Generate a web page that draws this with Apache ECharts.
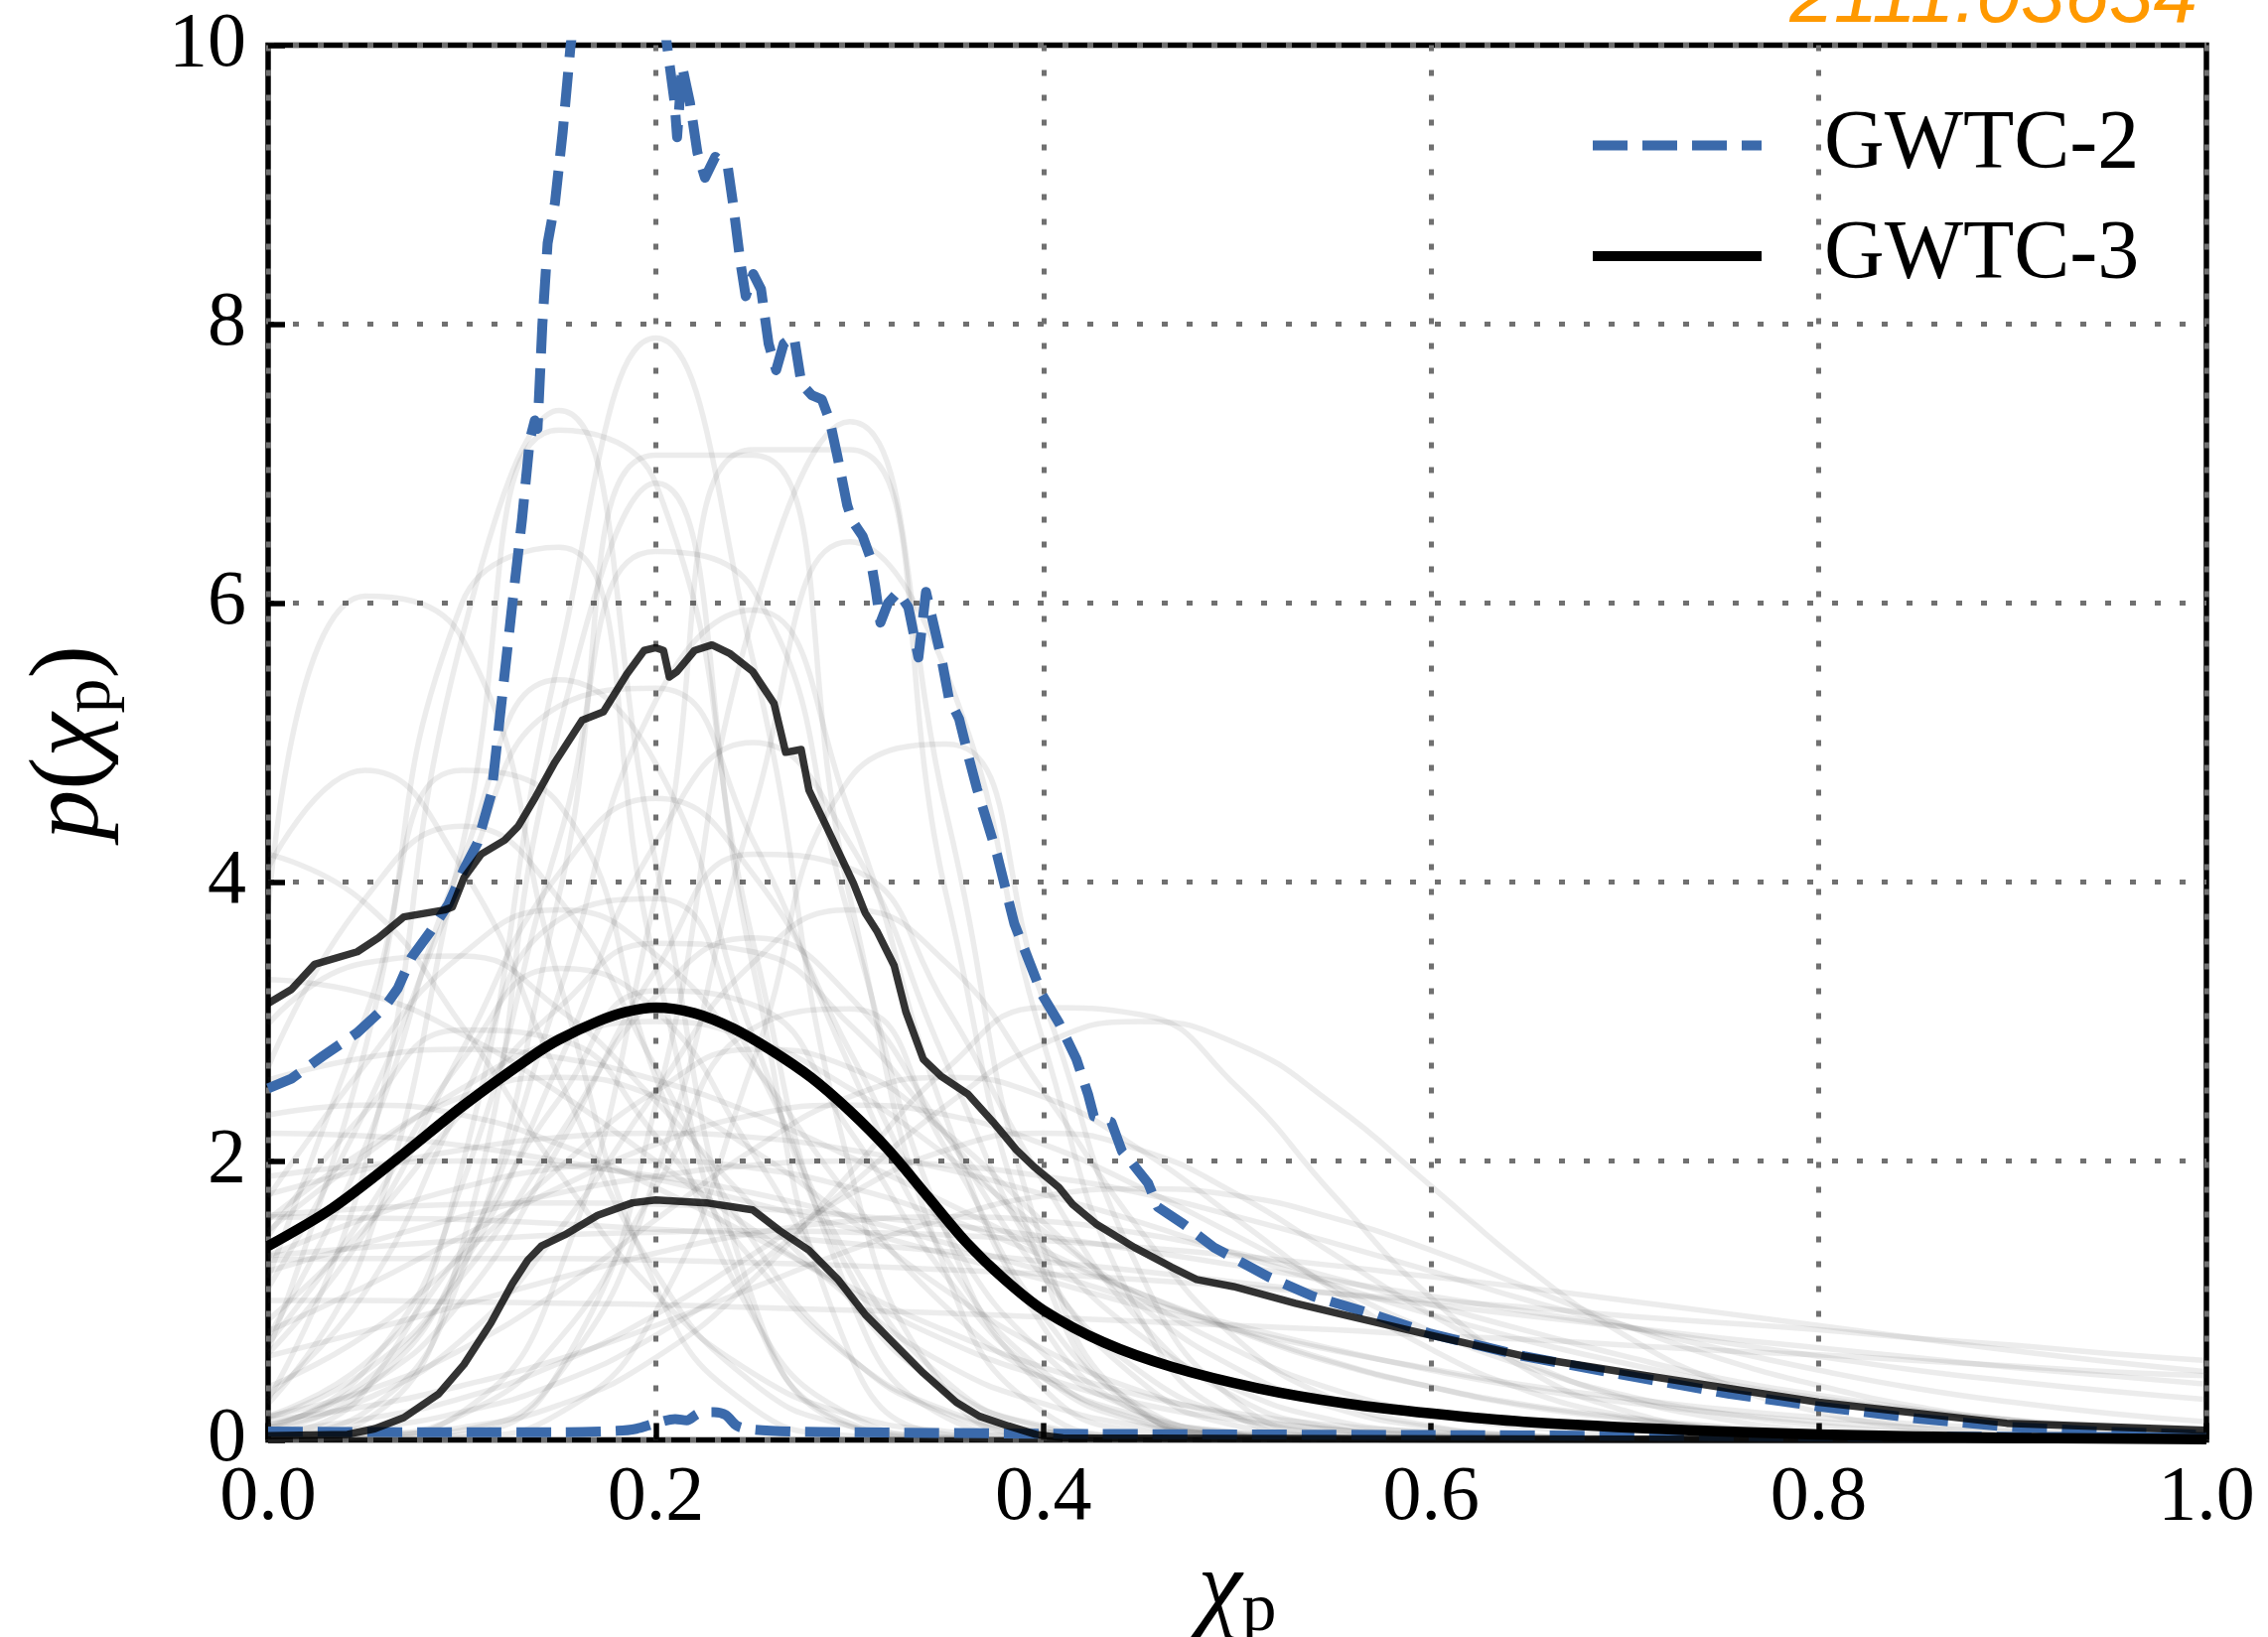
<!DOCTYPE html>
<html>
<head>
<meta charset="utf-8">
<script src="https://cdn.jsdelivr.net/npm/echarts@6/dist/echarts.min.js"></script>
<style>
html,body{margin:0;padding:0;background:#ffffff;}
#chart{width:2284px;height:1649px;}
</style>
</head>
<body>
<div id="chart"></div>
<script>
// ---------------- data ----------------
const xTickLabels = ['0.0', '0.2', '0.4', '0.6', '0.8', '1.0'];
const yTickLabels = ['0', '2', '4', '6', '8', '10'];
const legendNames = ['GWTC-2', 'GWTC-3'];

// faint population draws, sampled on a common chi_p grid
const drawX = [0,0.05,0.1,0.15,0.2,0.25,0.3,0.35,0.4,0.45,0.5,0.55,0.6,0.65,0.7,0.75,0.8,0.85,0.9,0.95,1.0];
const draws = [
  [0.26,1.37,4.25,7.24,6.86,3.58,1.03,0.16,0.02,0,0,0,0,0,0,0,0,0,0,0,0],
  [0.03,0.35,1.96,5.6,7.9,5.6,1.96,0.35,0.03,0,0,0,0,0,0,0,0,0,0,0,0],
  [0.02,0.2,1.2,3.9,7.06,7.06,3.9,1.2,0.2,0.02,0,0,0,0,0,0,0,0,0,0,0],
  [0,0.02,0.2,1.2,3.9,7.1,7.1,3.9,1.2,0.2,0.02,0,0,0,0,0,0,0,0,0,0],
  [3.8,6.05,5.75,3.3,1.1,0.23,0.03,0,0,0,0,0,0,0,0,0,0,0,0,0,0],
  [0.64,2.8,6.0,6.4,3.4,0.92,0.12,0.01,0,0,0,0,0,0,0,0,0,0,0,0,0],
  [0,0.01,0.07,0.47,1.9,4.5,6.44,5.5,2.85,0.88,0.16,0.02,0,0,0,0,0,0,0,0,0],
  [0.07,0.36,1.3,3.2,5.3,5.95,4.5,2.3,0.81,0.19,0.03,0,0,0,0,0,0,0,0,0,0],
  [0.74,2.1,4.15,5.45,4.85,2.9,1.2,0.33,0.06,0.01,0,0,0,0,0,0,0,0,0,0,0],
  [0,0.14,1.39,5.1,6.86,3.4,0.62,0.04,0,0,0,0,0,0,0,0,0,0,0,0,0],
  [0.62,1.49,2.79,4.06,4.6,4.06,2.79,1.49,0.62,0.2,0.05,0.01,0,0,0,0,0,0,0,0,0],
  [2.67,3.88,4.4,3.88,2.67,1.43,0.6,0.19,0.05,0.01,0,0,0,0,0,0,0,0,0,0,0],
  [0.11,0.38,1.0,2.1,3.37,4.2,4.1,3.1,1.85,0.85,0.3,0.085,0.02,0,0,0,0,0,0,0,0],
  [4.2,3.85,2.97,1.92,1.05,0.48,0.18,0.06,0.02,0,0,0,0,0,0,0,0,0,0,0,0],
  [1.74,2.69,3.48,3.8,3.48,2.69,1.74,0.95,0.44,0.17,0.053,0.014,0,0,0,0,0,0,0,0,0],
  [0.86,1.52,2.35,3.1,3.56,3.5,2.98,2.18,1.39,0.75,0.36,0.14,0.05,0.015,0,0,0,0,0,0,0],
  [0.01,0.03,0.09,0.25,0.59,1.15,1.91,2.66,3.1,3.05,2.53,1.75,1.02,0.5,0.21,0.07,0.02,0,0,0,0],
  [2.58,2.74,2.8,2.74,2.58,2.34,2.03,1.7,1.36,1.05,0.78,0.55,0.38,0.25,0.16,0.095,0.055,0.03,0.016,0.008,0.004],
  [2.2,2.18,2.11,2.0,1.87,1.7,1.52,1.33,1.15,0.96,0.79,0.64,0.51,0.39,0.3,0.22,0.16,0.115,0.08,0.056,0.037],
  [1.61,1.66,1.69,1.7,1.69,1.66,1.61,1.54,1.46,1.36,1.25,1.14,1.03,0.92,0.81,0.7,0.6,0.5,0.42,0.35,0.29],
  [1.32,1.38,1.43,1.47,1.49,1.5,1.49,1.47,1.43,1.38,1.32,1.25,1.17,1.09,1.0,0.91,0.82,0.73,0.64,0.56,0.49],
  [1.21,1.41,1.6,1.77,1.89,1.97,2.0,1.97,1.89,1.77,1.6,1.41,1.21,1.0,0.82,0.65,0.5,0.37,0.27,0.19,0.13],
  [3.3,3.2,2.91,2.49,2.0,1.51,1.07,0.71,0.45,0.26,0.145,0.075,0.037,0.017,0.007,0,0,0,0,0,0],
  [1.5,2.04,2.52,2.87,3.0,2.87,2.52,2.04,1.5,1.02,0.64,0.36,0.19,0.09,0.04,0.015,0.006,0,0,0,0],
  [0.17,0.35,0.65,1.07,1.58,2.08,2.46,2.6,2.46,2.08,1.58,1.07,0.65,0.35,0.17,0.073,0.029,0.01,0,0,0],
  [1.16,3.03,4.8,4.56,2.6,0.89,0.18,0.02,0,0,0,0,0,0,0,0,0,0,0,0,0],
  [0.1,0.42,1.24,2.7,4.28,5.0,4.28,2.7,1.24,0.42,0.1,0.02,0,0,0,0,0,0,0,0,0],
  [4.1,4.8,4.1,2.6,1.2,0.41,0.1,0.02,0,0,0,0,0,0,0,0,0,0,0,0,0],
  [1.09,2.36,4.0,5.26,5.39,4.3,2.68,1.3,0.49,0.14,0.03,0,0,0,0,0,0,0,0,0,0],
  [0.09,0.29,0.72,1.5,2.5,3.42,3.8,3.42,2.5,1.5,0.72,0.29,0.1,0.03,0,0,0,0,0,0,0],
  [0,0,0.02,0.19,0.92,2.7,4.74,4.99,3.15,1.2,0.27,0.04,0,0,0,0,0,0,0,0,0],
  [0.29,1.96,5.75,7.38,4.14,1.01,0.1,0,0,0,0,0,0,0,0,0,0,0,0,0,0],
  [0,0,0.04,0.49,2.4,5.9,7.3,4.49,1.38,0.21,0.02,0,0,0,0,0,0,0,0,0,0],
  [0.09,0.5,1.83,4.3,6.37,6.1,3.74,1.48,0.37,0.06,0.01,0,0,0,0,0,0,0,0,0,0],
  [2.98,3.42,3.47,3.09,2.43,1.68,1.02,0.54,0.26,0.1,0.04,0.01,0,0,0,0,0,0,0,0,0],
  [0.14,0.24,0.39,0.58,0.82,1.09,1.36,1.59,1.75,1.8,1.75,1.59,1.36,1.09,0.82,0.58,0.39,0.24,0.14,0.08,0.04],
  [1.76,1.94,2.08,2.17,2.2,2.17,2.08,1.94,1.76,1.56,1.33,1.11,0.9,0.71,0.55,0.41,0.3,0.21,0.145,0.097,0.062],
  [1.6,1.59,1.58,1.55,1.51,1.47,1.41,1.35,1.28,1.21,1.13,1.05,0.97,0.89,0.81,0.73,0.66,0.59,0.52,0.46,0.4],
  [1.29,1.3,1.3,1.3,1.29,1.27,1.25,1.22,1.19,1.15,1.1,1.05,1.0,0.95,0.89,0.84,0.79,0.73,0.68,0.62,0.57],
  [0.033,0.085,0.2,0.41,0.75,1.23,1.82,2.4,2.84,3.0,2.84,2.4,1.82,1.23,0.75,0.41,0.2,0.085,0.033,0.012,0],
  [0.17,0.55,1.36,2.44,3.22,3.12,2.22,1.17,0.45,0.125,0.03,0,0,0,0,0,0,0,0,0,0],
  [0.38,0.75,1.32,1.95,2.5,2.8,2.67,2.2,1.56,0.96,0.51,0.23,0.09,0.03,0.01,0,0,0,0,0,0],
  [1.58,2.08,2.46,2.6,2.46,2.08,1.58,1.07,0.65,0.35,0.17,0.073,0.029,0.01,0,0,0,0,0,0,0],
  [0.78,1.1,1.46,1.81,2.12,2.33,2.4,2.33,2.12,1.81,1.46,1.1,0.78,0.52,0.32,0.19,0.105,0.055,0.027,0.012,0.005],
  [2.33,2.4,2.33,2.12,1.81,1.46,1.1,0.78,0.52,0.32,0.19,0.105,0.055,0.027,0.012,0.005,0,0,0,0,0],
  [1.32,1.59,1.81,1.95,2.0,1.95,1.81,1.59,1.32,1.05,0.79,0.56,0.38,0.24,0.15,0.088,0.049,0.026,0.013,0.006,0.003],
  [0.32,1.06,2.43,3.73,3.88,2.73,1.3,0.42,0.09,0.01,0,0,0,0,0,0,0,0,0,0,0],
  [0.16,0.49,1.17,2.18,3.18,3.6,3.18,2.18,1.17,0.49,0.16,0.04,0.01,0,0,0,0,0,0,0,0],
  [1.46,2.35,2.94,2.87,2.18,1.29,0.59,0.21,0.06,0.013,0,0,0,0,0,0,0,0,0,0,0],
  [0.6,0.78,0.97,1.16,1.34,1.48,1.57,1.6,1.57,1.48,1.34,1.16,0.97,0.78,0.6,0.44,0.32,0.22,0.14,0.09,0.055],
  [1.0,1.0,0.99,0.98,0.97,0.95,0.93,0.91,0.88,0.85,0.82,0.79,0.75,0.72,0.68,0.64,0.61,0.57,0.53,0.49,0.46],
  [0.06,0.15,0.3,0.55,0.9,1.33,1.76,2.08,2.2,2.08,1.76,1.33,0.9,0.55,0.3,0.15,0.06,0.02,0.01,0,0],
  [1.89,1.97,2.0,1.97,1.89,1.77,1.6,1.41,1.21,1.0,0.82,0.65,0.5,0.37,0.27,0.19,0.13,0.088,0.057,0.036,0.022],
  [0,0.03,0.18,0.72,1.81,2.95,3.09,2.08,0.89,0.24,0.04,0,0,0,0,0,0,0,0,0,0],
  [0.69,1.62,2.72,3.38,3.08,2.06,1.01,0.37,0.1,0.02,0,0,0,0,0,0,0,0,0,0,0]
];

// GWTC-3 median
const g3MedX = [0,0.033,0.067,0.101,0.136,0.15,0.17,0.185,0.2,0.22,0.24,0.26,0.28,0.3,0.32,0.34,0.36,0.38,0.4,0.431,0.466,0.511,0.557,0.6,0.648,0.733,0.8,0.9,1.0];
const g3MedY = [1.39,1.66,2.02,2.40,2.75,2.87,3.0,3.07,3.10,3.06,2.95,2.79,2.6,2.36,2.08,1.75,1.42,1.15,0.93,0.70,0.525,0.37,0.26,0.19,0.13,0.07,0.04,0.015,0.006];

// GWTC-3 upper 90% bound
const g3UpX = [0,0.012,0.024,0.046,0.057,0.07,0.091,0.095,0.101,0.11,0.122,0.129,0.138,0.148,0.162,0.173,0.185,0.194,0.2,0.204,0.207,0.211,0.22,0.229,0.238,0.25,0.261,0.267,0.275,0.279,0.288,0.302,0.308,0.314,0.323,0.329,0.338,0.347,0.361,0.374,0.386,0.395,0.408,0.415,0.427,0.447,0.466,0.479,0.498,0.53,0.557,0.6,0.648,0.707,0.73,0.8,0.897,1.0];
const g3UpY = [3.13,3.23,3.41,3.50,3.60,3.75,3.80,3.82,4.03,4.20,4.30,4.40,4.61,4.86,5.16,5.22,5.49,5.66,5.68,5.66,5.47,5.51,5.66,5.70,5.64,5.51,5.28,4.93,4.95,4.66,4.40,3.99,3.78,3.65,3.40,3.07,2.73,2.61,2.48,2.28,2.08,1.96,1.81,1.69,1.55,1.38,1.24,1.15,1.10,0.98,0.89,0.75,0.60,0.47,0.42,0.27,0.12,0.07];

// GWTC-3 lower 90% bound
const g3LoX = [0,0.041,0.055,0.07,0.088,0.101,0.115,0.126,0.134,0.141,0.153,0.17,0.188,0.2,0.226,0.25,0.264,0.279,0.294,0.308,0.323,0.338,0.355,0.367,0.382,0.396,0.41,0.5,0.7,1.0];
const g3LoY = [0.03,0.04,0.08,0.16,0.33,0.54,0.84,1.12,1.29,1.39,1.47,1.61,1.70,1.72,1.70,1.65,1.50,1.36,1.15,0.90,0.69,0.48,0.27,0.17,0.10,0.04,0.015,0.01,0.005,0.002];

// GWTC-2 upper 90% bound
const g2UpX = [0,0.012,0.028,0.046,0.06,0.067,0.074,0.084,0.093,0.101,0.108,0.1153,0.1258,0.131,0.135,0.1376,0.139,0.1415,0.1442,0.148,0.152,0.156,0.165,0.18,0.195,0.2058,0.2097,0.211,0.2136,0.2176,0.2215,0.2254,0.2307,0.2372,0.2398,0.2438,0.2464,0.2503,0.2543,0.2582,0.2621,0.266,0.2713,0.2752,0.2805,0.2857,0.2897,0.2936,0.2962,0.2988,0.3014,0.3067,0.3106,0.3132,0.3159,0.3198,0.325,0.3303,0.3355,0.3394,0.3473,0.3512,0.3565,0.3617,0.3657,0.376,0.385,0.3935,0.3994,0.408,0.417,0.423,0.426,0.435,0.4405,0.446,0.454,0.459,0.472,0.488,0.516,0.539,0.568,0.6,0.648,0.694,0.754,0.8,0.85,0.897,0.945,1.0];
const g2UpY = [2.52,2.59,2.75,2.92,3.10,3.24,3.46,3.65,3.84,4.09,4.28,4.64,5.97,6.6,7.17,7.31,7.25,8.0,8.58,8.87,9.38,9.99,11.0,11.8,11.2,10.0,9.59,9.34,9.85,9.59,9.23,9.05,9.2,9.12,8.87,8.43,8.2,8.36,8.25,7.86,7.67,7.86,7.91,7.57,7.49,7.46,7.31,7.06,6.88,6.70,6.59,6.48,6.33,6.12,5.86,6.0,6.08,5.97,5.61,6.08,5.61,5.32,5.17,4.88,4.67,4.2,3.7,3.4,3.19,2.99,2.73,2.48,2.32,2.28,2.07,1.98,1.84,1.67,1.55,1.38,1.17,1.03,0.91,0.76,0.60,0.48,0.33,0.24,0.155,0.095,0.06,0.035];

// GWTC-2 lower 90% bound
const g2LoX = [0,0.1,0.15,0.18,0.19,0.2,0.21,0.216,0.222,0.23,0.236,0.242,0.25,0.27,0.3,0.4,0.6,0.8,1.0];
const g2LoY = [0.06,0.055,0.055,0.065,0.08,0.12,0.15,0.14,0.19,0.2,0.18,0.1,0.075,0.06,0.055,0.045,0.035,0.025,0.02];

// ---------------- chart ----------------
const zip = (xs, ys) => xs.map((x, i) => [x, ys[i]]);
const SERIF = '"Liberation Serif", "DejaVu Serif", serif';
const BLUE = '#3b6aab';

const series = [];
draws.forEach((d, k) => {
  series.push({
    name: 'draw ' + (k + 1),
    type: 'line',
    data: zip(drawX, d),
    smooth: 0.5,
    symbol: 'none',
    silent: true,
    z: 1,
    lineStyle: { color: '#444444', width: 5.5, opacity: 0.1 }
  });
});
series.push({
  name: legendNames[0], type: 'line', data: zip(g2UpX, g2UpY), symbol: 'none', z: 3,
  lineStyle: { color: BLUE, width: 10, type: [35, 15], join: 'round' }
});
series.push({
  name: 'GWTC-2 lower', type: 'line', data: zip(g2LoX, g2LoY), symbol: 'none', z: 3, smooth: 0.3,
  lineStyle: { color: BLUE, width: 10, type: [35, 15], join: 'round' }
});
series.push({
  name: 'GWTC-3 upper', type: 'line', data: zip(g3UpX, g3UpY), symbol: 'none', z: 4,
  lineStyle: { color: '#000', opacity: 0.8, width: 7.5, join: 'round' }
});
series.push({
  name: 'GWTC-3 lower', type: 'line', data: zip(g3LoX, g3LoY), symbol: 'none', z: 4,
  lineStyle: { color: '#000', opacity: 0.8, width: 7.5, join: 'round' }
});
series.push({
  name: legendNames[1], type: 'line', data: zip(g3MedX, g3MedY), symbol: 'none', z: 5, smooth: 0.3,
  lineStyle: { color: '#000', width: 10.5, join: 'round' }
});

const gridLine = { show: true, lineStyle: { color: '#707070', width: 5, type: [6, 19], cap: 'butt' } };
const tick = { show: true, inside: true, length: 17, lineStyle: { color: '#000', width: 5.5 } };
const nameRich = {
  i: { fontFamily: SERIF, fontStyle: 'italic', fontSize: 100, lineHeight: 110, color: '#000' },
  n: { fontFamily: SERIF, fontSize: 100, lineHeight: 110, color: '#000' },
  s: { fontFamily: SERIF, fontSize: 70, lineHeight: 60, verticalAlign: 'bottom', color: '#000' }
};

const option = {
  animation: false,
  backgroundColor: '#ffffff',
  grid: {
    left: 270, top: 45.5, right: 62, bottom: 198.5,
    outerBoundsMode: 'none', containLabel: false,
    show: true, borderColor: '#000', borderWidth: 5.5, backgroundColor: 'transparent'
  },
  legend: {
    data: legendNames,
    orient: 'vertical',
    left: 1599, top: 101.5,
    padding: 0,
    itemWidth: 170, itemHeight: 20, itemGap: 21.5,
    selectedMode: false,
    lineStyle: { width: 10 },
    itemStyle: { opacity: 0 },
    textStyle: { fontFamily: SERIF, fontSize: 84, lineHeight: 90, color: '#000', padding: [0, 0, 0, 58] }
  },
  xAxis: {
    type: 'value', min: 0, max: 1, interval: 0.2,
    name: '{i|χ}{s|p}', nameLocation: 'middle', nameGap: 90,
    nameTextStyle: { rich: nameRich },
    axisLine: { show: false },
    axisTick: tick,
    splitLine: gridLine,
    axisLabel: {
      margin: 20, color: '#000', fontFamily: SERIF, fontSize: 78,
      formatter: v => xTickLabels[Math.round(v / 0.2)]
    }
  },
  yAxis: {
    type: 'value', min: 0, max: 10, interval: 2,
    name: '{i|p}{n|(}{i|χ}{s|p}{n|)}', nameLocation: 'middle', nameGap: 143, nameRotate: 90,
    nameTextStyle: { rich: nameRich },
    axisLine: { show: false },
    axisTick: tick,
    splitLine: gridLine,
    axisLabel: {
      margin: 22, color: '#000', fontFamily: SERIF, fontSize: 78,
      formatter: v => yTickLabels[Math.round(v / 2)]
    }
  },
  graphic: [{
    type: 'text', z: 100,
    style: {
      text: '2111.03634', x: 2213, y: 40, align: 'right', verticalAlign: 'bottom',
      fontFamily: '"Liberation Sans", Arial, sans-serif', fontStyle: 'italic', fontSize: 80,
      fill: '#ff9900'
    }
  }],
  series: series
};

const chart = echarts.init(document.getElementById('chart'), null, { renderer: 'canvas' });
chart.setOption(option);
</script>
</body>
</html>
